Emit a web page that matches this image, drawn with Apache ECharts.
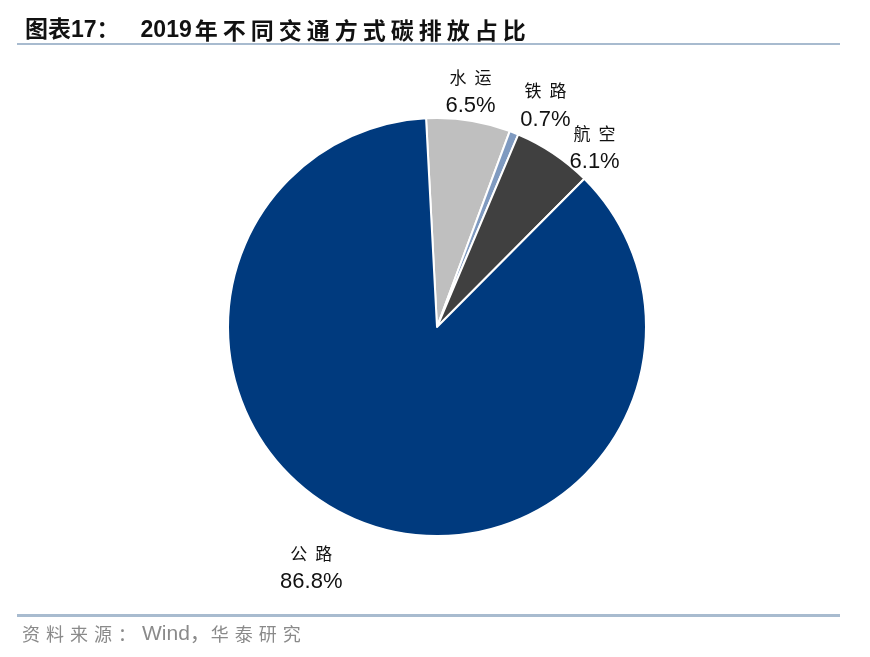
<!DOCTYPE html>
<html>
<head>
<meta charset="utf-8">
<script src="https://cdn.jsdelivr.net/npm/echarts@6/dist/echarts.min.js"></script>
<style>
  html, body { margin: 0; padding: 0; background: #fff; }
  #chart { width: 870px; height: 657px; }
</style>
</head>
<body>
<div id="chart"></div>
<script>
// 2019 年不同交通方式碳排放占比 (%)
const names = ["水运", "铁路", "航空", "公路"];
const shares = [6.5, 0.7, 6.1, 86.8];
const colors = ["#BFBFBF", "#7F9AC0", "#404040", "#003A7E"];
// small nudges so labels sit where the original put them
const labelNudge = [[-39, -9], [-14, -9], [-8, 11], [-6, 27]];

const chart = echarts.init(document.getElementById("chart"));

// each char in its own rich token -> fixed pitch (fake letter spacing)
const spaced = (s, key) => s.split("").map(c => "{" + key + "|" + c + "}").join("");

const data = names.map((n, i) => ({
  name: n,
  value: shares[i],
  itemStyle: { color: colors[i] }
}));

const cjk = "'Noto Sans CJK SC'";
const lat = "'Liberation Sans', 'Noto Sans CJK SC'";

chart.setOption({
  animation: false,
  title: {
    text: "{a|图表17：}{s| }{a|2019}{s2| }" + spaced("年不同交通方式碳排放占比", "c"),
    left: 20,
    top: 14,
    textStyle: {
      rich: {
        a: { fontFamily: lat, fontWeight: "bold", fontSize: 23, color: "#111" },
        s: { width: 21 },
        s2: { width: 3 },
        c: { fontFamily: cjk, fontWeight: "bold", fontSize: 23, color: "#111", width: 28, align: "left" }
      }
    }
  },
  graphic: [
    { type: "rect", shape: { x: 17, y: 43, width: 823, height: 2 }, style: { fill: "#A8BBCF" } },
    { type: "rect", shape: { x: 17, y: 614, width: 823, height: 3 }, style: { fill: "#A8BBCF" } },
    {
      type: "text", left: 22, top: 624,
      style: {
        text: spaced("资料来源：", "c") + "{w|Wind，}" + spaced("华泰研究", "c"),
        rich: {
          c: { fontFamily: cjk, fontSize: 18, fill: "#8A8A8A", width: 24 },
          w: { fontFamily: lat, fontSize: 21, fill: "#8A8A8A" }
        }
      }
    }
  ],
  series: [{
    type: "pie",
    center: [437, 327],
    radius: 209,
    startAngle: 93,
    clockwise: true,
    avoidLabelOverlap: false,
    data: data,
    itemStyle: { borderColor: "#fff", borderWidth: 2 },
    label: {
      show: true,
      position: "outside",
      formatter: p => spaced(p.name, "n") + "\n{p|" + p.value.toFixed(1) + "%}",
      rich: {
        n: { fontFamily: cjk, fontSize: 17, color: "#111", width: 25, align: "center", lineHeight: 29 },
        p: { fontFamily: "'Liberation Sans'", fontSize: 22, color: "#111", width: 66, align: "center", lineHeight: 29 }
      }
    },
    labelLine: { show: false, length: 20, length2: 0 },
    labelLayout: p => ({ dx: labelNudge[p.dataIndex][0], dy: labelNudge[p.dataIndex][1] }),
    emphasis: { disabled: true }
  }]
});
</script>
</body>
</html>
